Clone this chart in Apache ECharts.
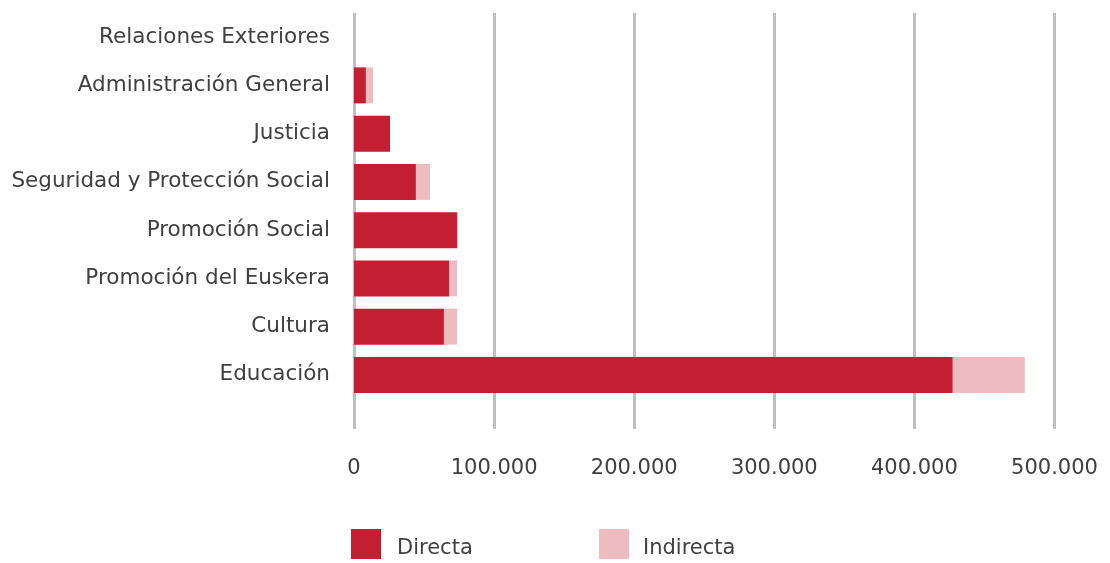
<!DOCTYPE html>
<html>
<head>
<meta charset="utf-8">
<script src="https://cdn.jsdelivr.net/npm/echarts@6/dist/echarts.min.js"></script>
<style>
html,body{margin:0;padding:0;background:#fff;}
#c{width:1110px;height:563px;}
</style>
</head>
<body>
<div id="c"></div>
<script>
const categories = ["Relaciones Exteriores","Administración General","Justicia","Seguridad y Protección Social","Promoción Social","Promoción del Euskera","Cultura","Educación"];
const directa = [0, 8500, 25700, 44200, 73500, 67800, 64200, 427400];
const indirecta = [0, 5000, 0, 10000, 700, 5700, 9300, 51400];
const seriesNames = ["Directa","Indirecta"];

const FONT = "DejaVu Sans";
const TXT = "#404040";
const GRIDC = "#bfbfbf";
const C1 = "#c21f33";
const C2 = "#edbcc0";

const chart = echarts.init(document.getElementById('c'), null, {renderer:'canvas'});
const xCommon = {
  type:'value', min:0, max:500000, interval:100000,
  axisLine:{show:false}, axisTick:{show:false},
  splitLine:{show:true, lineStyle:{color:GRIDC, width:3}}
};
const legendText = (padLeft) => ({
  fontSize:21, color:TXT, fontFamily:FONT,
  rich:{a:{fontSize:21, color:TXT, fontFamily:FONT, padding:[9,0,0,padLeft]}}
});
chart.setOption({
  animation:false,
  textStyle:{fontFamily:FONT},
  grid:[
    {left:354, right:55.5, top:13, height:386},
    {left:354, right:55.5, top:399, height:30}
  ],
  xAxis:[
    Object.assign({gridIndex:0, axisLabel:{show:false}}, xCommon),
    Object.assign({gridIndex:1, axisLabel:{show:true, margin:29, fontSize:21, color:TXT, fontFamily:FONT,
      formatter:v => v===0 ? '0' : v.toLocaleString('de-DE')}}, xCommon)
  ],
  yAxis:[
    {gridIndex:0, type:'category', data:categories, inverse:true,
     axisLine:{show:false}, axisTick:{show:false},
     axisLabel:{margin:24, fontSize:21.5, color:TXT, fontFamily:FONT}},
    {gridIndex:1, type:'category', data:[''], show:false}
  ],
  legend:[
    {left:351, top:529, padding:0, itemWidth:30, itemHeight:30, icon:'rect', data:[seriesNames[0]],
     formatter:'{a|{name}}', textStyle:legendText(11)},
    {left:599, top:529, padding:0, itemWidth:30, itemHeight:30, icon:'rect', data:[seriesNames[1]],
     formatter:'{a|{name}}', textStyle:legendText(9)}
  ],
  series:[
    {name:seriesNames[0], type:'bar', stack:'t', data:directa, barWidth:36, itemStyle:{color:C1}, xAxisIndex:0, yAxisIndex:0},
    {name:seriesNames[1], type:'bar', stack:'t', data:indirecta, barWidth:36, itemStyle:{color:C2}, xAxisIndex:0, yAxisIndex:0}
  ]
});
</script>
</body>
</html>
